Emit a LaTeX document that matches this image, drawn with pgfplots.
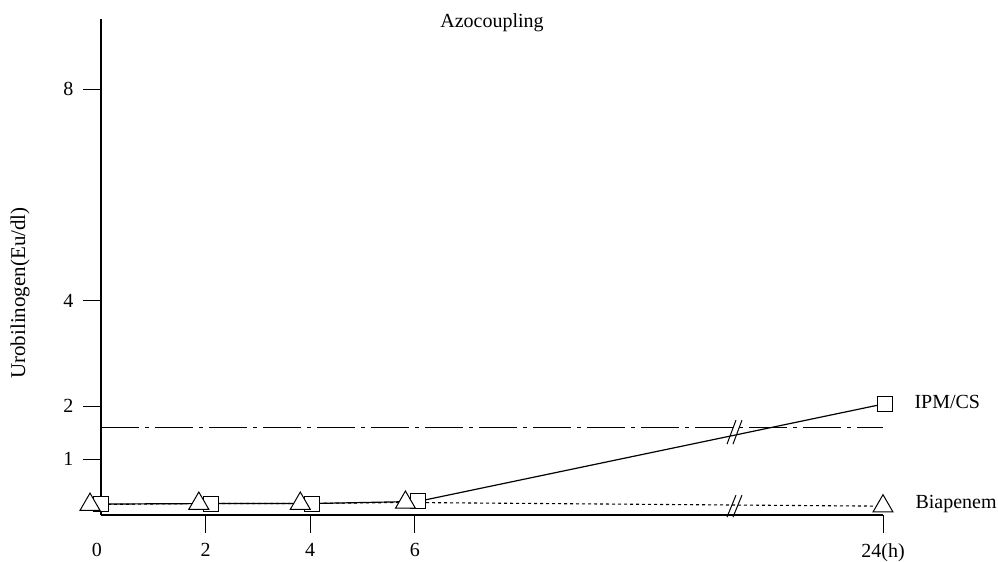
\documentclass[border=0pt]{standalone}
\usepackage{fontspec}
\setmainfont{Liberation Serif}
\usepackage{pgfplots}
\pgfplotsset{compat=1.18}
\usepackage{pgfplotstable}

\pgfplotstableread{
x y
0 0.15
2.1 0.16
4.04 0.16
6.06 0.20
14.99 2.05
}\ipm
\pgfplotstableread{
x y
-0.21 0.14
1.87 0.16
3.81 0.16
5.82 0.18
14.95 0.11
}\bia

\begin{document}
\begin{tikzpicture}[font=\fontsize{20bp}{24bp}\selectfont]
\begin{axis}[
  at={(0,0)}, anchor=south west,
  scale only axis, width=782bp, height=496bp,
  xmin=0, xmax=14.95, ymin=-0.057, ymax=9.33,
  axis x line=bottom, axis y line=left,
  axis line style={-, line width=1.6bp},
  tick align=outside, major tick length=18bp,
  tick style={line width=0.9bp, black},
  xtick={2,4,6,14.95}, xticklabels={2,4,6,24(h)},
  extra x ticks={0}, extra x tick labels={0},
  extra x tick style={tick style={draw=none}, xticklabel style={xshift=-4bp}},
  ytick={1,2,4,8}, yticklabels={1,2,4,8},
  clip=false,
  /pgf/number format/assume math mode=true,
  ticklabel style={font=\fontsize{20bp}{24bp}\selectfont},
  xticklabel style={yshift=-7bp},
  yticklabel style={xshift=-6bp},
]
\addplot[black, line width=1.1bp, dash pattern=on 3bp off 3bp] table[x=x,y=y] {\bia};
\addplot[black, line width=1bp, dash pattern=on 38bp off 6bp on 4bp off 6bp] coordinates {(0,1.59) (14.95,1.59)};
\addplot[black, line width=1.2bp, mark=square*, mark size=7.5bp, mark options={fill=white, solid, line width=1bp}] table[x=x,y=y] {\ipm};
\addplot[only marks, mark=triangle*, mark size=11.5bp, mark options={fill=white, solid, line width=1bp, draw=black}] table[x=x,y=y] {\bia};
\draw[line width=1bp] ([xshift=-8bp,yshift=-12bp]axis cs:12.12,1.51) -- ++(9bp,24bp);
\draw[line width=1bp] ([xshift=-2bp,yshift=-12bp]axis cs:12.12,1.51) -- ++(9bp,24bp);
\draw[line width=1bp] ([xshift=-8bp,yshift=-11bp]axis cs:12.12,0.11) -- ++(9bp,22bp);
\draw[line width=1bp] ([xshift=-2bp,yshift=-11bp]axis cs:12.12,0.11) -- ++(9bp,22bp);
\end{axis}
\node[anchor=base] at (391bp,487bp) {Azocoupling};
\node[anchor=west] at (810bp,113bp) {IPM/CS};
\node[anchor=west] at (811bp,11bp) {Biapenem};
\node[rotate=90, font=\fontsize{21bp}{25bp}\selectfont] at (-81bp,222bp) {Urobilinogen(Eu/dl)};
\pgfresetboundingbox
\path[use as bounding box] (-101bp,-47bp) rectangle (897bp,515bp);
\end{tikzpicture}
\end{document}
